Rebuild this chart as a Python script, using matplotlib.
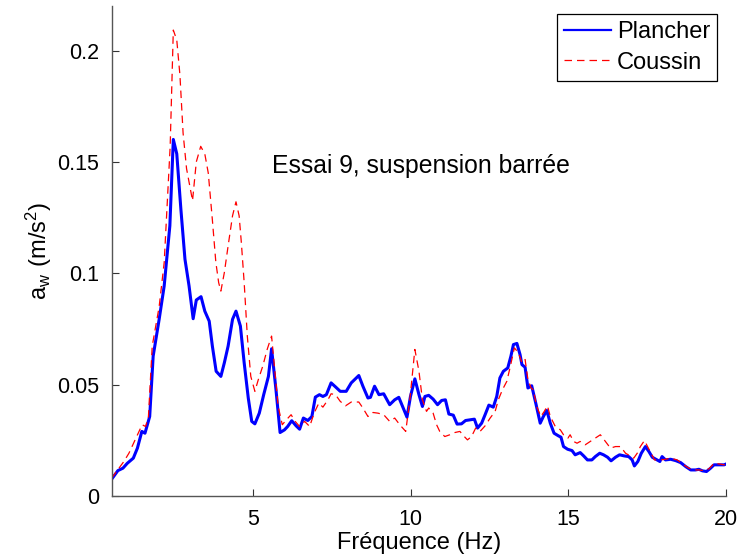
import numpy as np
import matplotlib
matplotlib.use("Agg")
import matplotlib.pyplot as plt

# frequency (Hz) / a_w (m/s^2)
freq_plancher = [0.50, 0.70, 0.86, 1.00, 1.19, 1.32, 1.46, 1.56, 1.71, 1.82,
                 2.01, 2.17, 2.35, 2.46, 2.57, 2.70, 2.83, 2.96, 3.09, 3.19,
                 3.34, 3.46, 3.60, 3.70, 3.82, 3.97, 4.08, 4.20, 4.34, 4.45,
                 4.59, 4.71, 4.84, 4.95, 5.05, 5.19, 5.33, 5.48, 5.58, 5.72,
                 5.85, 5.99, 6.09, 6.22, 6.36, 6.47, 6.59, 6.73, 6.86, 6.97,
                 7.10, 7.21, 7.32, 7.47, 7.61, 7.76, 7.95, 8.11, 8.35, 8.48,
                 8.64, 8.72, 8.85, 8.99, 9.14, 9.33, 9.49, 9.62, 9.76, 9.88,
                 9.99, 10.13, 10.26, 10.37, 10.45, 10.57, 10.71, 10.85, 10.98, 11.10,
                 11.21, 11.35, 11.47, 11.61, 11.74, 11.88, 12.02, 12.12, 12.25, 12.36,
                 12.48, 12.62, 12.73, 12.83, 12.94, 13.08, 13.18, 13.26, 13.37, 13.47,
                 13.53, 13.63, 13.72, 13.84, 13.98, 14.11, 14.21, 14.32, 14.43, 14.55,
                 14.69, 14.77, 14.85, 14.98, 15.12, 15.22, 15.38, 15.49, 15.61, 15.75,
                 15.86, 16.00, 16.12, 16.25, 16.36, 16.50, 16.63, 16.78, 16.92, 17.03,
                 17.10, 17.21, 17.32, 17.45, 17.56, 17.67, 17.82, 17.91, 17.98, 18.09,
                 18.25, 18.41, 18.57, 18.73, 18.89, 19.04, 19.15, 19.26, 19.39, 19.52,
                 19.63, 19.79, 19.95, 20.00]
plancher = [0.0075, 0.0114, 0.0125, 0.0147, 0.0170, 0.0215, 0.0290, 0.0282, 0.0357, 0.0628,
            0.0793, 0.0943, 0.1213, 0.1601, 0.1536, 0.1288, 0.1063, 0.0943, 0.0796, 0.0880,
            0.0895, 0.0830, 0.0785, 0.0673, 0.0560, 0.0537, 0.0598, 0.0673, 0.0793, 0.0830,
            0.0763, 0.0598, 0.0440, 0.0335, 0.0324, 0.0372, 0.0455, 0.0537, 0.0661, 0.0477,
            0.0285, 0.0297, 0.0312, 0.0338, 0.0315, 0.0300, 0.0350, 0.0339, 0.0357, 0.0444,
            0.0455, 0.0447, 0.0455, 0.0508, 0.0490, 0.0470, 0.0470, 0.0508, 0.0541, 0.0493,
            0.0440, 0.0443, 0.0493, 0.0455, 0.0459, 0.0410, 0.0432, 0.0443, 0.0395, 0.0354,
            0.0447, 0.0526, 0.0455, 0.0402, 0.0447, 0.0452, 0.0435, 0.0410, 0.0429, 0.0432,
            0.0368, 0.0363, 0.0323, 0.0324, 0.0339, 0.0342, 0.0345, 0.0305, 0.0327, 0.0365,
            0.0408, 0.0399, 0.0447, 0.0530, 0.0560, 0.0575, 0.0628, 0.0680, 0.0685, 0.0635,
            0.0590, 0.0578, 0.0485, 0.0495, 0.0410, 0.0327, 0.0357, 0.0384, 0.0327, 0.0282,
            0.0270, 0.0264, 0.0222, 0.0210, 0.0204, 0.0185, 0.0195, 0.0180, 0.0162, 0.0162,
            0.0177, 0.0192, 0.0185, 0.0174, 0.0158, 0.0174, 0.0185, 0.0180, 0.0177, 0.0162,
            0.0135, 0.0155, 0.0192, 0.0222, 0.0200, 0.0174, 0.0162, 0.0155, 0.0177, 0.0162,
            0.0165, 0.0159, 0.0150, 0.0132, 0.0117, 0.0117, 0.0120, 0.0113, 0.0110, 0.0125,
            0.0140, 0.0140, 0.0140, 0.0143]

freq_coussin = [0.50, 0.89, 1.05, 1.47, 1.58, 1.67, 1.79, 2.01, 2.17, 2.36,
                2.46, 2.57, 2.67, 2.77, 2.88, 2.96, 3.07, 3.19, 3.33, 3.46,
                3.57, 3.70, 3.81, 3.90, 3.97, 4.08, 4.20, 4.34, 4.45, 4.55,
                4.62, 4.71, 4.81, 4.92, 5.05, 5.16, 5.30, 5.44, 5.58, 5.67,
                5.79, 5.92, 6.05, 6.20, 6.33, 6.47, 6.63, 6.79, 6.93, 7.08,
                7.21, 7.37, 7.47, 7.61, 7.76, 7.93, 8.11, 8.35, 8.48, 8.64,
                8.80, 8.96, 9.14, 9.33, 9.49, 9.65, 9.84, 9.97, 10.13, 10.26,
                10.37, 10.50, 10.57, 10.71, 10.82, 10.92, 11.08, 11.24, 11.40, 11.56,
                11.70, 11.80, 11.93, 12.06, 12.20, 12.36, 12.52, 12.68, 12.78, 12.91,
                13.05, 13.15, 13.29, 13.42, 13.53, 13.63, 13.72, 13.82, 13.89, 14.00,
                14.13, 14.24, 14.34, 14.43, 14.59, 14.75, 14.85, 14.99, 15.06, 15.17,
                15.28, 15.38, 15.54, 15.70, 15.86, 16.02, 16.18, 16.34, 16.50, 16.66,
                16.82, 16.97, 17.08, 17.19, 17.29, 17.42, 17.52, 17.63, 17.74, 17.93,
                18.09, 18.25, 18.46, 18.67, 18.83, 18.99, 19.15, 19.31, 19.47, 19.63,
                19.79, 19.95, 20.00]
coussin = [0.0080, 0.0155, 0.0192, 0.0320, 0.0312, 0.0357, 0.0673, 0.0850, 0.1048, 0.1570,
           0.2092, 0.2047, 0.1890, 0.1630, 0.1470, 0.1410, 0.1326, 0.1500, 0.1570, 0.1536,
           0.1450, 0.1240, 0.1050, 0.0958, 0.0920, 0.1003, 0.1123, 0.1258, 0.1321, 0.1258,
           0.1138, 0.0958, 0.0718, 0.0537, 0.0470, 0.0523, 0.0583, 0.0658, 0.0718, 0.0583,
           0.0402, 0.0320, 0.0342, 0.0365, 0.0335, 0.0312, 0.0335, 0.0312, 0.0372, 0.0417,
           0.0399, 0.0432, 0.0459, 0.0455, 0.0425, 0.0405, 0.0422, 0.0422, 0.0395, 0.0357,
           0.0375, 0.0372, 0.0365, 0.0335, 0.0350, 0.0320, 0.0290, 0.0432, 0.0658, 0.0560,
           0.0432, 0.0380, 0.0395, 0.0372, 0.0320, 0.0290, 0.0267, 0.0275, 0.0285, 0.0290,
           0.0267, 0.0252, 0.0267, 0.0305, 0.0290, 0.0315, 0.0350, 0.0380, 0.0432, 0.0477,
           0.0515, 0.0575, 0.0665, 0.0643, 0.0598, 0.0613, 0.0523, 0.0485, 0.0477, 0.0402,
           0.0357, 0.0380, 0.0405, 0.0357, 0.0312, 0.0297, 0.0275, 0.0260, 0.0275, 0.0245,
           0.0237, 0.0245, 0.0230, 0.0245, 0.0260, 0.0275, 0.0245, 0.0215, 0.0222, 0.0222,
           0.0192, 0.0180, 0.0170, 0.0192, 0.0222, 0.0249, 0.0222, 0.0192, 0.0162, 0.0162,
           0.0165, 0.0170, 0.0162, 0.0140, 0.0125, 0.0117, 0.0117, 0.0114, 0.0122, 0.0147,
           0.0144, 0.0140, 0.0143]

xticks = [5, 10, 15, 20]
yticks = [0, 0.05, 0.1, 0.15, 0.2]
ytick_labels = ["0", "0.05", "0.1", "0.15", "0.2"]

plt.rcParams['font.family'] = ['Liberation Sans', 'DejaVu Sans']
plt.rcParams['font.size'] = 17

fig = plt.figure(figsize=(7.39, 5.57), dpi=100)
ax = fig.add_axes([0.151, 0.1095, 0.831, 0.8797])

ax.plot(freq_plancher, plancher, color='#0000ff', lw=2.2, label='Plancher')
ax.plot(freq_coussin, coussin, color='#ff0000', lw=0.9, ls=(0, (6, 4)), label='Coussin')

ax.set_xlim(0.5, 20)
ax.set_ylim(0, 0.22)
ax.set_xticks(xticks)
ax.set_xticklabels([str(t) for t in xticks])
ax.set_yticks(yticks)
ax.set_yticklabels(ytick_labels)
ax.tick_params(direction='in', length=5, width=0.8, color='#333333', labelsize=15.5)
ax.tick_params(axis='y', pad=9)
ax.tick_params(axis='x', pad=9)

for s in ['top', 'right']:
    ax.spines[s].set_visible(False)
for s in ['left', 'bottom']:
    ax.spines[s].set_color('#555555')
    ax.spines[s].set_linewidth(1.0)

ax.set_xlabel('Fréquence (Hz)', labelpad=2)
ax.set_ylabel(r'$\mathregular{a_w\ (m/s^2)}$', labelpad=2)

ax.text(5.6, 0.148, 'Essai 9, suspension barrée', ha='left', va='center', fontsize=17.8)

leg = ax.legend(loc='upper right', fancybox=False, edgecolor='black',
                framealpha=1, handlelength=2.0, borderaxespad=0.35,
                handletextpad=0.25, labelspacing=0.35, borderpad=0.3)
leg.get_frame().set_linewidth(0.9)
for line in leg.get_lines():
    line.set_linewidth(1.6 if line.get_label() == 'Plancher' else 0.9)

fig.savefig('out.png', dpi=100)
